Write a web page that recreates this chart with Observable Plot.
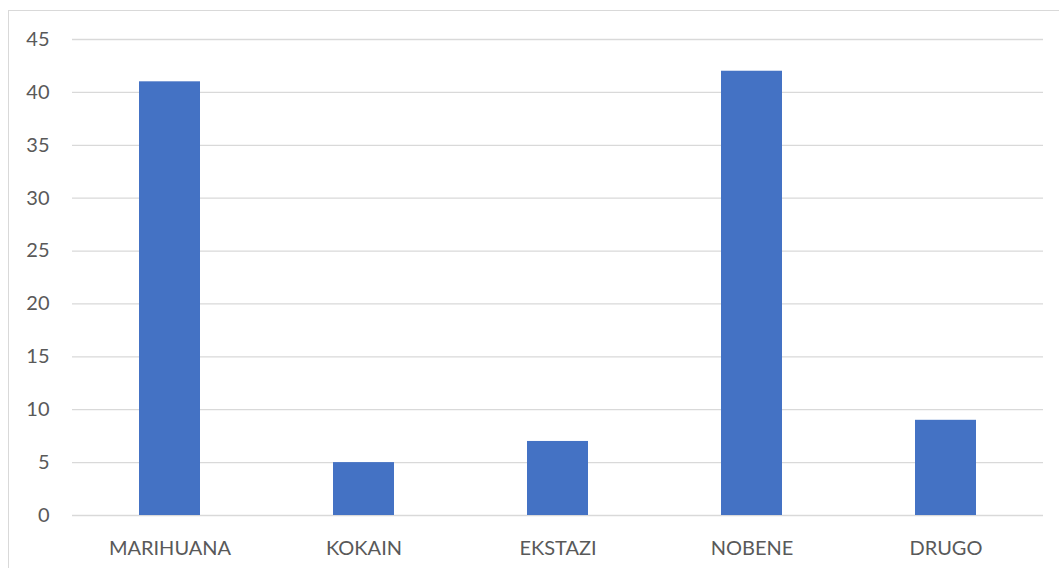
<!DOCTYPE html>
<html>
<head>
<meta charset="utf-8">
<script src="https://cdn.jsdelivr.net/npm/d3@7"></script>
<script src="https://cdn.jsdelivr.net/npm/@observablehq/plot@0.6"></script>
<style>
  html, body { margin: 0; padding: 0; background: #fff; }
  #wrap { position: relative; width: 1059px; height: 568px; overflow: hidden; }
  #frame { position: absolute; left: 8px; top: 10px; width: 1100px; height: 600px; border: 1px solid #d9d9d9; box-sizing: border-box; }
  #chart { position: absolute; left: 0; top: 0; }
</style>
</head>
<body>
<div id="wrap"><div id="frame"></div><div id="chart"></div></div>
<script>
const categories = ["MARIHUANA", "KOKAIN", "EKSTAZI", "NOBENE", "DRUGO"];
const values = [41, 5, 7, 42, 9];
const yTicks = [0, 5, 10, 15, 20, 25, 30, 35, 40, 45];

const data = categories.map((c, i) => ({category: c, value: values[i]}));

const chart = Plot.plot({
  width: 1059,
  height: 568,
  marginLeft: 72,
  marginRight: 16,
  marginTop: 39,
  marginBottom: 53,
  style: {fontFamily: "Lato, 'Open Sans', sans-serif", fontSize: "20px", color: "#595959", background: "transparent"},
  x: {domain: categories, paddingInner: 0.686, paddingOuter: 0.343, label: null},
  y: {domain: [0, 45], ticks: yTicks, label: null},
  marks: [
    Plot.gridY(yTicks, {stroke: "#d9d9d9", strokeOpacity: 1, strokeWidth: 1.3}),
    Plot.barY(data, {x: "category", y: "value", fill: "#4472c4"}),
    Plot.axisY(yTicks, {tickSize: 0, tickPadding: 23, fill: "#595959", fontSize: 20}),
    Plot.axisX({tickSize: 0, tickPadding: 25, fill: "#595959", fontSize: 20})
  ]
});
document.getElementById("chart").appendChild(chart);
</script>
</body>
</html>
